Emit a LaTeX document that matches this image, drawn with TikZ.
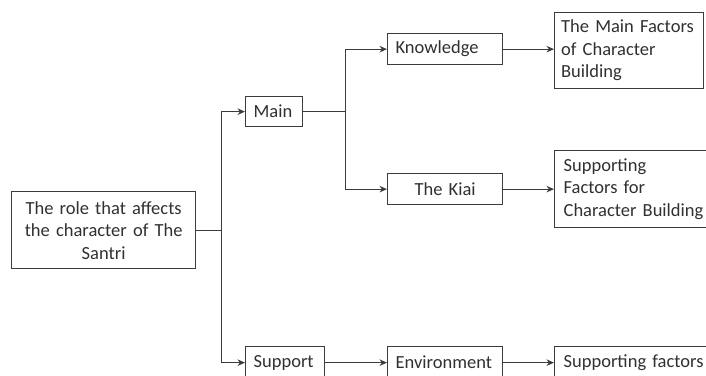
\documentclass[tikz,border=0pt]{standalone}
\usepackage{fontspec}
\setmainfont{Carlito}
\usetikzlibrary{arrows.meta}
\definecolor{linec}{HTML}{3C3C3C}
\definecolor{textc}{HTML}{303030}
\hyphenpenalty=10000
\exhyphenpenalty=10000
\begin{document}
\begin{tikzpicture}[x=1pt,y=-1pt,
  box/.style={draw=linec, line width=1.3pt, text=textc,
    font=\fontsize{18.5}{22.5}\selectfont, anchor=north west,
    inner xsep=0pt, inner ysep=0pt, align=left},
  conn/.style={draw=linec, line width=1.3pt},
  arr/.style={conn, -{Stealth[length=7.5pt,width=6.5pt]}}]
\useasboundingbox (0,0) rectangle (706,375);
\clip (0,0) rectangle (706,375);

\node[box, align=center, minimum width=184pt, minimum height=77pt, text width=170pt] (left) at (11,191)
  {The role that affects\\the character of The\\Santri};
\node[box, minimum width=57pt, minimum height=30pt, text width=41pt] (main) at (245,96) {Main};
\node[box, minimum width=115pt, minimum height=31pt, text width=99pt] (know) at (387,33) {Knowledge};
\node[box, align=center, minimum width=115pt, minimum height=31pt, text width=99pt] (kiai) at (387,173) {The Kiai};
\node[box, minimum width=149pt, minimum height=76pt, text width=136pt] (mf) at (554,12)
  {The Main Factors\\of Character\\Building};
\node[box, minimum width=160pt, minimum height=77pt, text width=142pt] (sf) at (554,150)
  {Supporting\\Factors for\\Character Building};
\node[box, minimum width=79pt, minimum height=32pt, text width=63pt] (sup) at (245,346) {Support};
\node[box, minimum width=115pt, minimum height=32pt, text width=99pt] (env) at (387,346) {Environment};
\node[box, minimum width=160pt, minimum height=32pt, text width=142pt] (sfb) at (554,346) {Supporting factors};

\path (left.east) -- ++(25,0) coordinate (t);
\draw[conn] (left.east) -- (t);
\draw[arr] (t) |- (main.west);
\draw[arr] (t) |- (sup.west);

\path (main.east) -- ++(42,0) coordinate (b);
\draw[conn] (main.east) -- (b);
\draw[arr] (b) |- (know.west);
\draw[arr] (b) |- (kiai.west);

\draw[arr] (know.east) -- (know.east -| mf.west);
\draw[arr] (kiai.east) -- (kiai.east -| sf.west);
\draw[arr] (sup.east) -- (env.west);
\draw[arr] (env.east) -- (sfb.west);
\end{tikzpicture}
\end{document}
